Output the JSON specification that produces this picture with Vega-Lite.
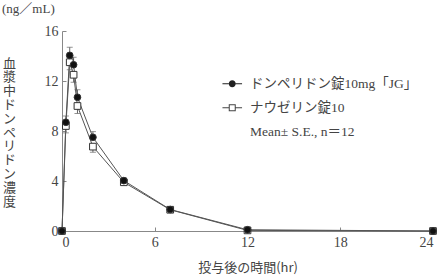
{
  "$schema": "https://vega.github.io/schema/vega-lite/v6.json",
  "width": 371,
  "height": 200,
  "autosize": "none",
  "padding": {"left": 62, "top": 31, "right": 9, "bottom": 48},
  "background": "white",
  "title": {"text": "(ng／mL)", "anchor": "start", "frame": "group", "dx": -60, "offset": 8, "fontSize": 13, "fontWeight": "normal", "font": "Liberation Serif, Noto Sans CJK JP", "color": "#444"},
  "data": {"values": [
    {"t": 0, "s": "ナウゼリン錠10", "m": 0, "lo": 0, "hi": 0},
    {"t": 0.25, "s": "ナウゼリン錠10", "m": 8.4, "lo": 7.85, "hi": 8.4},
    {"t": 0.5, "s": "ナウゼリン錠10", "m": 13.5, "lo": 12.9, "hi": 13.5},
    {"t": 0.75, "s": "ナウゼリン錠10", "m": 12.5, "lo": 11.9, "hi": 12.5},
    {"t": 1, "s": "ナウゼリン錠10", "m": 10.0, "lo": 9.4, "hi": 10.0},
    {"t": 2, "s": "ナウゼリン錠10", "m": 6.75, "lo": 6.3, "hi": 6.75},
    {"t": 4, "s": "ナウゼリン錠10", "m": 3.9, "lo": 3.7, "hi": 3.9},
    {"t": 7, "s": "ナウゼリン錠10", "m": 1.7, "lo": 1.6, "hi": 1.7},
    {"t": 12, "s": "ナウゼリン錠10", "m": 0.05, "lo": 0.02, "hi": 0.05},
    {"t": 24, "s": "ナウゼリン錠10", "m": 0, "lo": 0, "hi": 0},
    {"t": 0, "s": "ドンペリドン錠10mg「JG」", "m": 0, "lo": 0, "hi": 0},
    {"t": 0.25, "s": "ドンペリドン錠10mg「JG」", "m": 8.7, "lo": 8.7, "hi": 9.2},
    {"t": 0.5, "s": "ドンペリドン錠10mg「JG」", "m": 14.05, "lo": 14.05, "hi": 14.7},
    {"t": 0.75, "s": "ドンペリドン錠10mg「JG」", "m": 13.3, "lo": 13.3, "hi": 13.9},
    {"t": 1, "s": "ドンペリドン錠10mg「JG」", "m": 10.7, "lo": 10.7, "hi": 11.3},
    {"t": 2, "s": "ドンペリドン錠10mg「JG」", "m": 7.5, "lo": 7.5, "hi": 7.95},
    {"t": 4, "s": "ドンペリドン錠10mg「JG」", "m": 4.03, "lo": 4.03, "hi": 4.25},
    {"t": 7, "s": "ドンペリドン錠10mg「JG」", "m": 1.72, "lo": 1.72, "hi": 1.82},
    {"t": 12, "s": "ドンペリドン錠10mg「JG」", "m": 0.1, "lo": 0.1, "hi": 0.13},
    {"t": 24, "s": "ドンペリドン錠10mg「JG」", "m": 0, "lo": 0, "hi": 0}
  ]},
  "config": {
    "view": {"stroke": null},
    "axis": {"grid": false, "domainColor": "#888", "tickColor": "#888", "tickSize": -4, "labelColor": "#444", "labelFont": "Liberation Serif", "labelFontSize": 14, "titleColor": "#444", "titleFont": "Noto Sans CJK JP", "titleFontSize": 13, "titleFontWeight": "normal"}
  },
  "resolve": {"scale": {"shape": "independent", "fill": "independent"}, "legend": {"shape": "independent", "fill": "independent"}},
  "layer": [
    {
      "mark": {"type": "line", "color": "#555", "strokeWidth": 1},
      "encoding": {
        "x": {"field": "t", "type": "quantitative", "scale": {"domain": [0, 24], "nice": false},
              "axis": {"values": [0, 6, 12, 18, 24], "title": "投与後の時間(hr)", "labelPadding": 8, "titlePadding": 12}},
        "y": {"field": "m", "type": "quantitative", "scale": {"domain": [0, 16], "nice": false},
              "axis": {"values": [0, 4, 8, 12, 16], "labelPadding": 8,
                       "title": ["血", "漿", "中", "ド", "ン", "ペ", "リ", "ド", "ン", "濃", "度"],
                       "titleAngle": 0, "titleX": -53, "titleY": 26, "titleBaseline": "top", "titleAlign": "center", "titleLineHeight": 13.8}},
        "detail": {"field": "s"}
      }
    },
    {
      "mark": {"type": "rule", "color": "#666", "strokeWidth": 1},
      "encoding": {
        "x": {"field": "t", "type": "quantitative"},
        "y": {"field": "lo", "type": "quantitative"},
        "y2": {"field": "hi"}
      }
    },
    {
      "mark": {"type": "tick", "color": "#666", "orient": "horizontal", "size": 6, "thickness": 1},
      "encoding": {
        "x": {"field": "t", "type": "quantitative"},
        "y": {"field": "lo", "type": "quantitative"}
      }
    },
    {
      "mark": {"type": "tick", "color": "#666", "orient": "horizontal", "size": 6, "thickness": 1},
      "encoding": {
        "x": {"field": "t", "type": "quantitative"},
        "y": {"field": "hi", "type": "quantitative"}
      }
    },
    {
      "mark": {"type": "point", "filled": false, "size": 45, "strokeWidth": 1, "stroke": "#333", "opacity": 1},
      "encoding": {
        "x": {"field": "t", "type": "quantitative"},
        "y": {"field": "m", "type": "quantitative"},
        "shape": {"field": "s", "type": "nominal", "scale": {"domain": ["ドンペリドン錠10mg「JG」", "ナウゼリン錠10"], "range": ["circle", "square"]}, "legend": null},
        "fill": {"field": "s", "type": "nominal", "scale": {"domain": ["ドンペリドン錠10mg「JG」", "ナウゼリン錠10"], "range": ["#111", "white"]}, "legend": null}
      }
    },
    {
      "transform": [{"filter": "false"}],
      "mark": {"type": "point", "filled": false, "size": 49, "strokeWidth": 0, "opacity": 1},
      "encoding": {
        "x": {"field": "t", "type": "quantitative"},
        "y": {"field": "m", "type": "quantitative"},
        "shape": {"field": "s", "type": "nominal",
          "scale": {"domain": ["ドンペリドン錠10mg「JG」", "ナウゼリン錠10", "Mean± S.E., n＝12"],
                    "range": ["M-2.8,-0.14L-1,-0.14L-1,0.14L-2.8,0.14Z M1,-0.14L2.8,-0.14L2.8,0.14L1,0.14Z M-1,0A1,1 0 1,0 1,0A1,1 0 1,0 -1,0Z",
                              "M-2.8,-0.14L-1,-0.14L-1,0.14L-2.8,0.14Z M1,-0.14L2.8,-0.14L2.8,0.14L1,0.14Z M-1,-1L1,-1L1,1L-1,1Z M-0.71,-0.71L-0.71,0.71L0.71,0.71L0.71,-0.71Z",
                              "M0,0L0.01,0"]},
          "legend": {"title": null, "orient": "none", "legendX": 163.5, "legendY": 46, "padding": 0, "rowPadding": 9,
            "labelFont": "Liberation Serif, Noto Sans CJK JP", "labelFontSize": 13.5, "labelColor": "#444", "labelOffset": 11, "labelLimit": 300, "symbolSize": 49, "symbolStrokeWidth": 0}},
        "fill": {"field": "s", "type": "nominal",
          "scale": {"domain": ["ドンペリドン錠10mg「JG」", "ナウゼリン錠10", "Mean± S.E., n＝12"], "range": ["#222", "#444", "transparent"]},
          "legend": {"title": null, "orient": "none", "legendX": 163.5, "legendY": 46, "padding": 0, "rowPadding": 9,
            "labelFont": "Liberation Serif, Noto Sans CJK JP", "labelFontSize": 13.5, "labelColor": "#444", "labelOffset": 11, "labelLimit": 300, "symbolSize": 49, "symbolStrokeWidth": 0}}
      }
    }
  ]
}
